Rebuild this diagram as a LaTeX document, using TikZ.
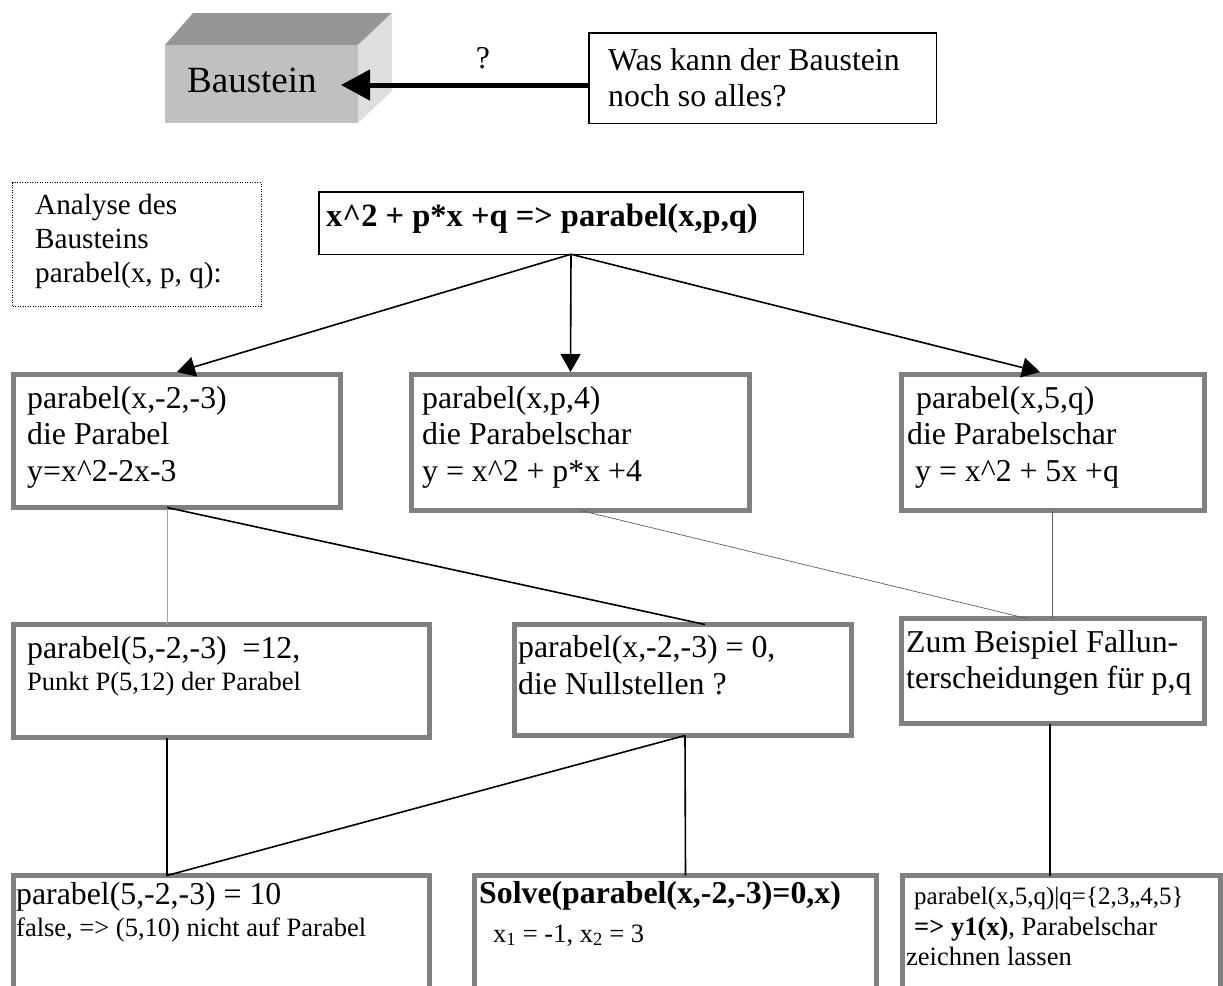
\documentclass[tikz,border=0pt]{standalone}
\usepackage{fontspec}
\setmainfont{Liberation Serif}
\usetikzlibrary{arrows.meta}
\definecolor{boxgray}{RGB}{128,128,128}
\definecolor{frontgray}{RGB}{192,192,192}
\definecolor{topgray}{RGB}{150,150,150}
\definecolor{sidegray}{RGB}{222,222,222}
\definecolor{lightline}{RGB}{165,165,165}
\definecolor{darkline}{RGB}{95,95,95}
\newcommand\gbx[5]{\node[gboxst, minimum width={#4-#2-5}, minimum height={#5-#3-5}] (#1) at ({#2+2.5},{#3+2.5}) {};}
\newcommand\tbx[6]{\node[#6, minimum width={#4-#2-1.5}, minimum height={#5-#3-1.5}] (#1) at ({#2+0.75},{#3+0.75}) {};}
\begin{document}
\begin{tikzpicture}[x=1pt,y=-1pt,
  gboxst/.style={draw=boxgray, line width=5pt, inner sep=0pt, outer sep=0pt, anchor=north west},
  thinbox/.style={draw=black, line width=1.5pt, inner sep=0pt, outer sep=0pt, anchor=north west},
  dotbox/.style={draw=black, line width=1.2pt, dash pattern=on 1.2pt off 1.3pt, inner sep=0pt, outer sep=0pt, anchor=north west},
  tl/.style={anchor=base west, inner sep=0pt, font=\fontsize{31.8}{36}\selectfont},
  tm/.style={anchor=base west, inner sep=0pt, font=\fontsize{29.2}{34}\selectfont},
  ts/.style={anchor=base west, inner sep=0pt, font=\fontsize{26.5}{31}\selectfont},
  arr/.style={line width=1.6pt, -{Triangle[length=18pt,width=20pt]}},
  blk/.style={draw=black, line width=1.6pt},
  gl1/.style={draw=lightline, line width=1pt},
  gl2/.style={draw=darkline, line width=0.7pt}]
\useasboundingbox (0,0) rectangle (1223,985);
\fill[white] (0,0) rectangle (1223,985);
\clip (0,0) rectangle (1223,985);

% 3D Baustein block
\node[fill=frontgray, minimum width=193, minimum height=78, inner sep=0pt, outer sep=0pt, anchor=north west] (bau) at (165,45) {};
\fill[topgray] (bau.north west) -- ++(28,-32) -- ++(199,0) -- (bau.north east) -- cycle;
\fill[sidegray] (bau.north east) -- ++(34,-32) -- ++(0,78) -- (bau.south east) -- cycle;
\node[anchor=base west, inner sep=0pt, font=\fontsize{37}{42}\selectfont] (bautxt) at (187,92) {Baustein};

% question box
\tbx{was}{588}{32}{937}{124}{thinbox}
\node[tl] (was1) at (608,70) {Was kann der Baustein};
\node[tl] (was2) at (608,106) {noch so alles?};
\draw[line width=5pt, -{Triangle[length=29pt,width=30pt]}] ([yshift=-7pt]was.west) -- ([xshift=-17pt,yshift=-1pt]bau.east);
\node[font=\fontsize{31.8}{36}\selectfont, inner sep=0pt] (qm) at (483,58) {?};

% analysis box
\tbx{ana}{12}{182}{262}{307}{dotbox}
\node[tm] (ana1) at (35,214) {Analyse des};
\node[tm] (ana2) at (35,248) {Bausteins};
\node[tm] (ana3) at (35,282) {parabel(x, p, q):};

% top box
\tbx{top}{318}{191}{804}{255}{thinbox}
\node[tl, font=\fontsize{32.5}{36}\selectfont\bfseries] (toptxt) at (326,226) {x\textasciicircum 2 + p*x +q => parabel(x,p,q)};

% row 1
\gbx{r1a}{11}{372}{343}{510}
\gbx{r1b}{409}{372}{752}{513}
\gbx{r1c}{899}{372}{1207}{513}
\node[tl] (r1a1) at (27,408) {parabel(x,-2,-3)};
\node[tl] (r1a2) at (27,444) {die Parabel};
\node[tl] (r1a3) at (27,481) {y=x\textasciicircum 2-2x-3};
\node[tl] (r1b1) at (422,408) {parabel(x,p,4)};
\node[tl] (r1b2) at (422,444) {die Parabelschar};
\node[tl] (r1b3) at (422,481) {y = x\textasciicircum 2 + p*x +4};
\node[tl] (r1c1) at (916,408) {parabel(x,5,q)};
\node[tl] (r1c2) at (907,444) {die Parabelschar};
\node[tl] (r1c3) at (915,481) {y = x\textasciicircum 2 + 5x +q};

% row 2
\gbx{r2a}{11}{622}{432}{740}
\gbx{r2b}{512}{622}{854}{738}
\gbx{r2c}{899}{616}{1207}{726}
\node[tl] (r2a1) at (27,658) {parabel(5,-2,-3)\ \ =12,};
\node[ts] (r2a2) at (27,690) {Punkt P(5,12) der Parabel};
\node[tl] (r2b1) at (518,657) {parabel(x,-2,-3) = 0,};
\node[tl] (r2b2) at (518,694) {die Nullstellen ?};
\node[tl] (r2c1) at (906,652) {Zum Beispiel Fallun-};
\node[tl] (r2c2) at (906,688) {terscheidungen für p,q};

% row 3
\gbx{r3a}{11}{873}{432}{1010}
\gbx{r3b}{472}{873}{879}{1010}
\gbx{r3c}{900}{873}{1223}{1010}
\node[tl] (r3a1) at (16,904) {parabel(5,-2,-3) = 10};
\node[ts] (r3a2) at (16,936) {false, => (5,10) nicht auf Parabel};
\node[tl, font=\fontsize{31.8}{36}\selectfont\bfseries] (r3b1) at (479,903) {Solve(parabel(x,-2,-3)=0,x)};
\node[ts] (r3b2) at (493,942) {x\textsubscript{1} = -1, x\textsubscript{2} = 3};
\node[ts, font=\fontsize{25}{30}\selectfont] (r3c1) at (914,904) {parabel(x,5,q)|q=\{2,3,,4,5\}};
\node[ts] (r3c2) at (914,935) {\textbf{=> y1(x)}, Parabelschar};
\node[ts] (r3c3) at (906,965) {zeichnen lassen};

% connectors top -> row 1
\draw[arr] ([xshift=10pt]top.south) -- ([yshift=2.5pt]r1a.north);
\draw[arr] ([xshift=10pt]top.south) -- ([xshift=-10pt,yshift=2.5pt]r1b.north);
\draw[arr] ([xshift=10pt]top.south) -- ([xshift=-13pt,yshift=2.5pt]r1c.north);

% row 1 -> row 2
\draw[gl1] ([xshift=-10pt]r1a.south) -- ([xshift=-54.5pt]r2a.north);
\draw[blk] ([xshift=-10pt]r1a.south) -- ([xshift=22pt]r2b.north);
\draw[gl2] (r1b.south) -- ([xshift=-26pt]r2c.north);
\draw[gl2] ([xshift=-1pt]r1c.south) -- ([xshift=-1pt]r2c.north);

% row 2 -> row 3
\draw[blk] ([xshift=-54.5pt]r2a.south) -- ([xshift=-54.5pt]r3a.north);
\draw[blk] ([xshift=2pt]r2b.south) -- ([xshift=-54.5pt]r3a.north);
\draw[blk] ([xshift=2pt]r2b.south) -- ([xshift=10pt]r3b.north);
\draw[blk] ([xshift=-3pt]r2c.south) -- ([xshift=-11.5pt]r3c.north);
\end{tikzpicture}
\end{document}
